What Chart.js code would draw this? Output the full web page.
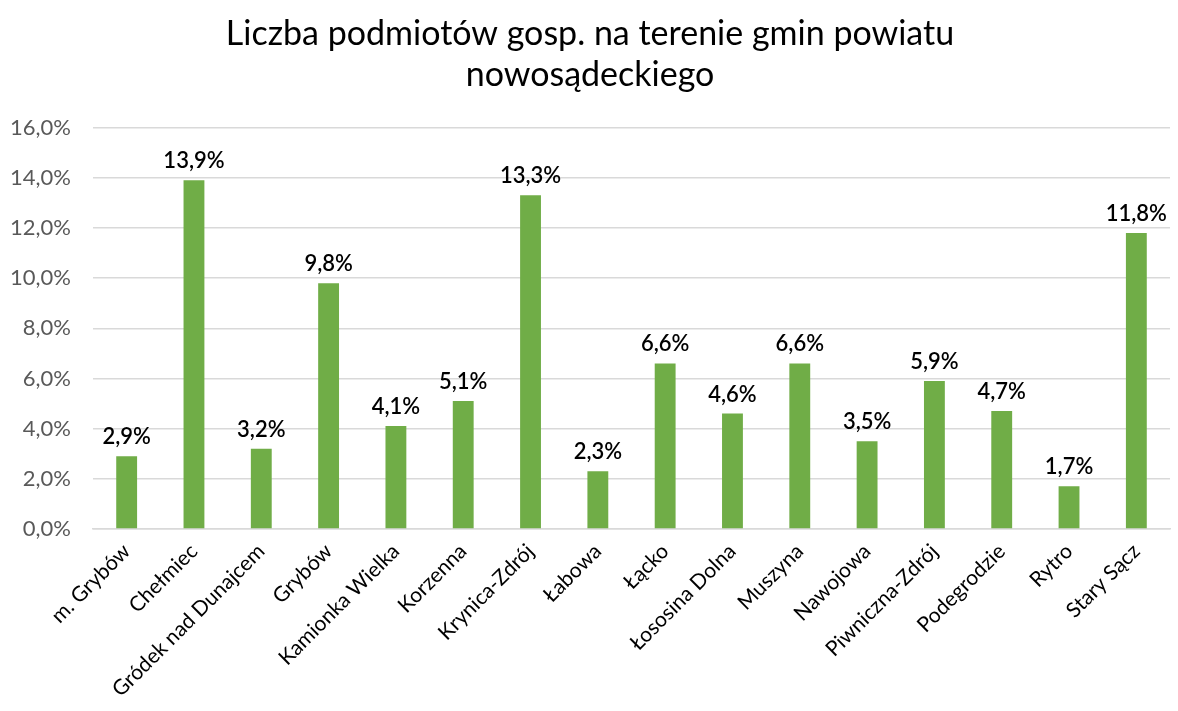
<!DOCTYPE html>
<html>
<head>
<meta charset="utf-8">
<script src="https://cdn.jsdelivr.net/npm/chart.js@4/dist/chart.umd.min.js"></script>
<style>
    body { margin: 0; background: #fff; }
    #wrap { width: 1178px; height: 711px; }
</style>
</head>
<body>
<div id="wrap"><canvas id="chart"></canvas></div>
<script>
const gminy = ['m. Grybów', 'Chełmiec', 'Gródek nad Dunajcem', 'Grybów', 'Kamionka Wielka', 'Korzenna',
    'Krynica-Zdrój', 'Łabowa', 'Łącko', 'Łososina Dolna', 'Muszyna', 'Nawojowa', 'Piwniczna-Zdrój',
    'Podegrodzie', 'Rytro', 'Stary Sącz'];
const udzial = [2.9, 13.9, 3.2, 9.8, 4.1, 5.1, 13.3, 2.3, 6.6, 4.6, 6.6, 3.5, 5.9, 4.7, 1.7, 11.8];
const titleLines = ['Liczba podmiotów gosp. na terenie gmin powiatu', 'nowosądeckiego'];

const fmt = v => v.toFixed(1).replace('.', ',') + '%';
const fontFamily = 'Lato, "Open Sans", sans-serif';

// labels above the bars
const barLabels = {
    id: 'barLabels',
    afterDatasetsDraw(chart) {
        const ctx = chart.ctx;
        const meta = chart.getDatasetMeta(0);
        ctx.save();
        ctx.font = '600 22px ' + fontFamily;
        ctx.fillStyle = '#000';
        ctx.textAlign = 'center';
        ctx.textBaseline = 'bottom';
        meta.data.forEach((bar, i) => {
            ctx.fillText(fmt(udzial[i]), bar.x, bar.y - 8);
        });
        ctx.restore();
    }
};

new Chart(document.getElementById('chart'), {
    type: 'bar',
    data: {
        labels: gminy,
        datasets: [{
            data: udzial,
            backgroundColor: '#70ad47',
            barPercentage: 0.62,
            categoryPercentage: 0.5
        }]
    },
    plugins: [barLabels],
    options: {
        responsive: true,
        maintainAspectRatio: false,
        animation: false,
        layout: { padding: { left: 10, right: 8, top: 0, bottom: 7 } },
        plugins: {
            legend: { display: false },
            tooltip: { enabled: false },
            title: {
                display: true,
                text: titleLines,
                color: '#000',
                font: { family: fontFamily, size: 34, weight: 'normal', lineHeight: 1.2 },
                padding: { top: 14, bottom: 32 }
            }
        },
        scales: {
            x: {
                grid: { display: false },
                border: { color: '#d9d9d9', width: 1.5 },
                ticks: {
                    color: '#000',
                    font: { family: fontFamily, size: 21 },
                    minRotation: 45,
                    maxRotation: 45,
                    autoSkip: false,
                    padding: 2
                }
            },
            y: {
                min: 0,
                max: 16,
                grid: { color: '#d9d9d9', lineWidth: 1.5, drawTicks: false },
                border: { display: false },
                afterFit: s => { s.width = 83; },
                ticks: {
                    stepSize: 2,
                    color: '#595959',
                    font: { family: fontFamily, size: 22 },
                    padding: 22,
                    callback: v => fmt(v)
                }
            }
        }
    }
});
</script>
</body>
</html>
